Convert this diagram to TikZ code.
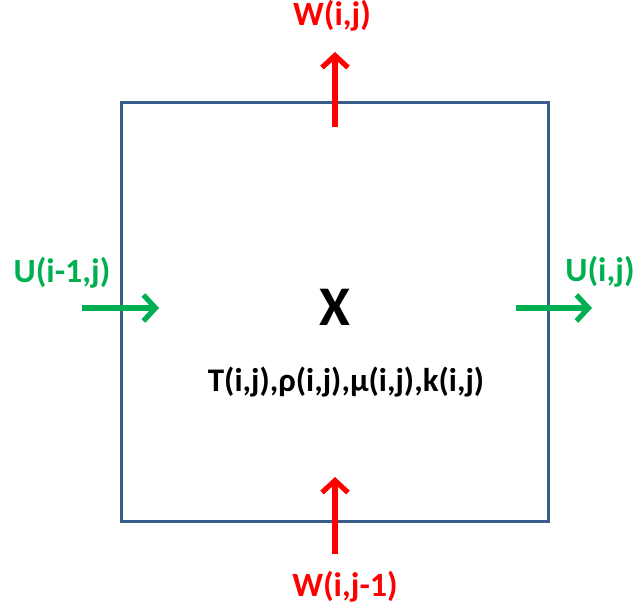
\documentclass[tikz,border=0pt]{standalone}
\usepackage{fontspec}
\setmainfont{Carlito}
\usetikzlibrary{arrows.meta}
\definecolor{rossoW}{RGB}{255,0,0}
\definecolor{verdeU}{RGB}{0,176,80}
\definecolor{bluCella}{RGB}{56,93,138}

\begin{document}
\begin{tikzpicture}[
    x=1pt, y=-1pt,
    et/.style={inner sep=0pt, font=\fontsize{34}{36}\selectfont\bfseries},
    fl/.style={line width=5.2pt, -{Straight Barb[length=12pt, width=26pt]}},
    bordo/.style={bluCella, line width=3pt},
  ]
  \useasboundingbox (0,0) rectangle (636,613);

  % ---- la cella (i,j) -------------------------------------------------------
  \draw[bordo] (121,102) rectangle (548,521);

  % ---- estremi delle frecce -------------------------------------------------
  \coordinate (Wsu0) at (335,127);  \coordinate (Wsu1) at (335,52);
  \coordinate (Wgiu0) at (335,554); \coordinate (Wgiu1) at (335,477);
  \coordinate (Usx0) at (82,308);   \coordinate (Usx1) at (159,308);
  \coordinate (Udx0) at (516,308);  \coordinate (Udx1) at (592,308);

  % ---- velocita' sulle facce ------------------------------------------------
  \draw[fl, rossoW] (Wsu0) -- (Wsu1);
  \draw[fl, rossoW] (Wgiu0) -- (Wgiu1);
  \draw[fl, verdeU] (Usx0) -- (Usx1);
  \draw[fl, verdeU] (Udx0) -- (Udx1);

  % ---- etichette ------------------------------------------------------------
  \node[et, text=rossoW] (Wij)  at (332,16)  {W(i,j)};
  \node[et, text=rossoW] (Wij1) at (345,587) {W(i,j-1)};
  \node[et, text=verdeU] (Ui1j) at (62,273)  {U(i-1,j)};
  \node[et, text=verdeU] (Uij)  at (600,272) {U(i,j)};

  \node[inner sep=0pt, font=\fontsize{56}{58}\selectfont\bfseries] (centro) at (335,307) {X};
  \node[inner sep=0pt, font=\fontsize{33}{35}\selectfont\bfseries] (prop) at (346,382)
       {T(i,j),ρ(i,j),μ(i,j),k(i,j)};

\end{tikzpicture}
\end{document}
